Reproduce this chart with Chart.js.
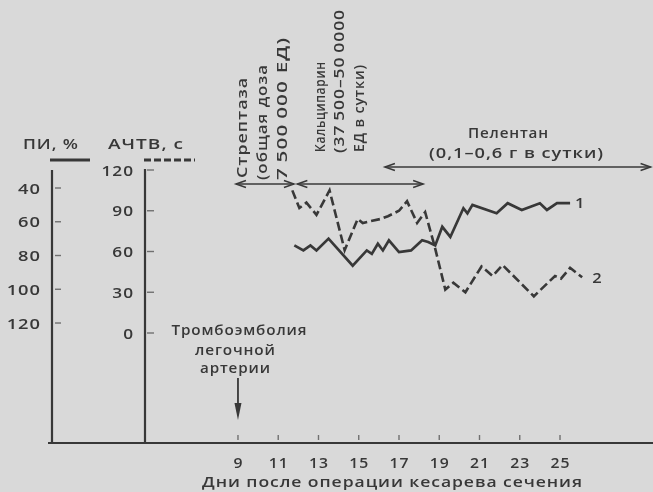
<!DOCTYPE html>
<html lang="ru">
<head>
<meta charset="utf-8">
<title>ПИ и АЧТВ после операции кесарева сечения</title>
<script src="https://cdn.jsdelivr.net/npm/chart.js@4.4.1/dist/chart.umd.min.js"></script>
<style>
  html, body { margin: 0; padding: 0; background: #d9d9d9; }
  #wrap { width: 653px; height: 492px; }
  canvas { display: block; }
</style>
</head>
<body>
<div id="wrap"><canvas id="chart" width="653" height="492"></canvas></div>
<script>
// Day after surgery (x) and prothrombin index, % (curve 1, solid)
const piDays   = [11.8, 12.25, 12.6, 12.9, 13.5, 14.7, 15.4, 15.65, 15.95, 16.2, 16.5, 17.0, 17.6, 18.15, 18.45, 18.8, 19.15, 19.55, 20.2, 20.4, 20.65, 21.85, 22.4, 23.1, 24.0, 24.35, 24.85, 25.5];
const piValues = [74, 77, 74, 77, 70, 86, 77, 79, 73, 77, 71, 78, 77, 71, 72, 74, 63, 69, 52, 55, 50, 55, 49, 53, 49, 53, 49, 49];

// Day after surgery (x) and APTT, s (curve 2, dashed)
const actvDays   = [11.7, 12.05, 12.4, 12.9, 13.55, 14.3, 14.95, 15.2, 16.1, 16.45, 17.0, 17.4, 17.9, 18.3, 18.75, 19.3, 19.7, 20.3, 21.1, 21.65, 22.15, 23.7, 24.75, 25.05, 25.5, 26.1];
const actvValues = [105, 92, 96, 87, 105, 61, 84, 81, 84, 86, 90, 97, 81, 89, 65, 32, 37, 30, 49, 42, 50, 27, 42, 40, 48, 41];

// Axis ticks
const xTickDays  = [9, 11, 13, 15, 17, 19, 21, 23, 25];
const piTicks    = [40, 60, 80, 100, 120];
const actvTicks  = [120, 90, 60, 30, 0];

// Treatment periods (days)
const streptaseSpan  = [8.9, 11.78];
const calciparinSpan = [11.95, 18.2];
const pelentanSpan   = [16.3, 29.5];
const embolismDay    = 9;

const INK = '#383838';
const SOFT = '#707070';
const FONT = '600 15px "Open Sans", "DejaVu Sans", sans-serif';
const SMALL = '600 14px "Open Sans", "DejaVu Sans", sans-serif';

// Wide lettering: glyphs stretched horizontally plus a little tracking.
// align: 'left' | 'center' | 'right'; width (optional) fits the run exactly.
function wideText(ctx, text, x, y, align, width, sx0) {
  const ls = 0.8;
  ctx.letterSpacing = '0px';
  const n = [...text].length;
  const natural = ctx.measureText(text).width + (n - 1) * ls;
  const sx = width ? width / natural : (sx0 || 1.15);
  const w = natural * sx;
  let x0 = x;
  if (align === 'center') x0 = x - w / 2;
  else if (align === 'right') x0 = x - w;
  ctx.save();
  ctx.translate(x0, y);
  ctx.scale(sx, 1);
  ctx.letterSpacing = ls + 'px';
  ctx.textAlign = 'left';
  ctx.fillText(text, 0, 0);
  ctx.restore();
}
function seg(ctx, x1, y1, x2, y2) {
  ctx.beginPath(); ctx.moveTo(x1, y1); ctx.lineTo(x2, y2); ctx.stroke();
}
// Open chevron arrow head; dir = -1 points left, +1 points right
function chevron(ctx, x, y, dir) {
  ctx.beginPath();
  ctx.moveTo(x - dir * 10, y - 3.5);
  ctx.lineTo(x, y);
  ctx.lineTo(x - dir * 10, y + 3.5);
  ctx.stroke();
}
function doubleArrow(ctx, x1, x2, y) {
  seg(ctx, x1, y, x2, y);
  chevron(ctx, x1, y, -1);
  chevron(ctx, x2, y, 1);
}

const decor = {
  id: 'decor',
  beforeDraw(chart) {
    const ctx = chart.ctx;
    ctx.save();
    ctx.fillStyle = '#d9d9d9';
    ctx.fillRect(0, 0, chart.width, chart.height);
    ctx.restore();
  },
  afterDraw(chart) {
    const ctx = chart.ctx;
    const { left, right, top, bottom } = chart.chartArea;
    const xs = chart.scales.x, pi = chart.scales.pi, actv = chart.scales.actv;
    const piAxisX = left;
    const actvAxisX = left + 93;

    ctx.save();
    ctx.font = FONT;
    ctx.fillStyle = INK;
    ctx.strokeStyle = INK;
    ctx.lineCap = 'butt';

    // Axis lines
    ctx.lineWidth = 2.2;
    seg(ctx, left - 4, bottom, right, bottom);
    seg(ctx, piAxisX, top, piAxisX, bottom);
    seg(ctx, actvAxisX, actv.getPixelForValue(120) - 1, actvAxisX, bottom);

    // Tick marks (inside the axes)
    ctx.strokeStyle = SOFT;
    ctx.lineWidth = 1.4;
    piTicks.forEach(v => {
      const y = pi.getPixelForValue(v);
      seg(ctx, piAxisX + 3, y, piAxisX + 9, y);
    });
    actvTicks.forEach(v => {
      const y = actv.getPixelForValue(v);
      seg(ctx, actvAxisX + 2, y, actvAxisX + 9, y);
    });
    xTickDays.forEach(d => {
      const x = xs.getPixelForValue(d);
      seg(ctx, x, bottom - 8, x, bottom - 3);
    });

    // Tick labels
    ctx.fillStyle = INK;
    piTicks.forEach(v => {
      wideText(ctx, String(v), piAxisX - 12, pi.getPixelForValue(v) + 5.5, 'right', null, 1.22);
    });
    actvTicks.forEach(v => {
      wideText(ctx, String(v), actvAxisX - 12, actv.getPixelForValue(v) + 5.5, 'right', null, 1.15);
    });
    xTickDays.forEach(d => {
      wideText(ctx, String(d), xs.getPixelForValue(d), bottom + 25, 'center', null, 1.05);
    });

    // Axis titles with line-style keys
    wideText(ctx, 'ПИ, %', piAxisX - 1.5, top - 21, 'center', 55);
    wideText(ctx, 'АЧТВ, с', actvAxisX + 0.5, top - 21, 'center', 75);
    ctx.strokeStyle = INK;
    ctx.lineWidth = 3;
    seg(ctx, piAxisX - 2, top - 10, piAxisX + 38, top - 10);
    ctx.setLineDash([7, 3]);
    seg(ctx, actvAxisX - 1, top - 10, actvAxisX + 50, top - 10);
    ctx.setLineDash([]);

    wideText(ctx, 'Дни после операции кесарева сечения', 392, bottom + 44, 'center', 380);

    // Treatment period arrows
    ctx.lineWidth = 1.5;
    const yA = top + 14;
    doubleArrow(ctx, xs.getPixelForValue(streptaseSpan[0]), xs.getPixelForValue(streptaseSpan[1]), yA);
    doubleArrow(ctx, xs.getPixelForValue(calciparinSpan[0]), xs.getPixelForValue(calciparinSpan[1]), yA);
    doubleArrow(ctx, xs.getPixelForValue(pelentanSpan[0]), xs.getPixelForValue(pelentanSpan[1]), top - 3);

    // Vertical captions for the treatment periods
    ctx.font = SMALL;
    const vCaptions = [
      ['Стрептаза', 247, 178, 100],
      ['(общая доза', 267, 180, 115],
      ['7\u2009500\u2009000 ЕД)', 286.5, 180, 142],
      ['Кальципарин', 324.5, 152, 90],
      ['(37\u2009500–50\u20090000', 344, 153, 143],
      ['ЕД в сутки)', 363.5, 152, 87]
    ];
    vCaptions.forEach(([t, x, y, len]) => {
      ctx.save();
      ctx.translate(x, y);
      ctx.rotate(-Math.PI / 2);
      ctx.textBaseline = 'alphabetic';
      wideText(ctx, t, 0, 0, 'left', len);
      ctx.restore();
    });
    ctx.font = FONT;

    wideText(ctx, 'Пелентан', 508, top - 32, 'center', 80);
    wideText(ctx, '(0,1–0,6 г в сутки)', 516, top - 12, 'center', 174);

    // Pulmonary embolism marker
    const ex = xs.getPixelForValue(embolismDay);
    ctx.font = SMALL;
    wideText(ctx, 'Тромбоэмболия', ex + 1, 335, 'center', 135);
    wideText(ctx, 'легочной', ex - 3, 355, 'center', 80);
    wideText(ctx, 'артерии', ex - 3, 373, 'center', 70);
    ctx.font = FONT;
    ctx.lineWidth = 1.8;
    seg(ctx, ex, 378, ex, 408);
    ctx.beginPath();
    ctx.moveTo(ex - 3.5, 403);
    ctx.lineTo(ex, 420);
    ctx.lineTo(ex + 3.5, 403);
    ctx.closePath();
    ctx.fill();

    // Curve numbers at line ends
    const end1 = chart.getDatasetMeta(0).data.at(-1);
    const end2 = chart.getDatasetMeta(1).data.at(-1);
    wideText(ctx, '1', end1.x + 5, end1.y + 5, 'left', null, 1.1);
    wideText(ctx, '2', end2.x + 10, end2.y + 5.5, 'left', null, 1.1);

    ctx.restore();
  }
};

new Chart(document.getElementById('chart'), {
  type: 'line',
  data: {
    datasets: [
      {
        label: 'ПИ, %',
        data: piDays.map((d, i) => ({ x: d, y: piValues[i] })),
        yAxisID: 'pi',
        borderColor: INK,
        borderWidth: 2.7,
        pointRadius: 0,
        tension: 0,
        borderJoinStyle: 'miter'
      },
      {
        label: 'АЧТВ, с',
        data: actvDays.map((d, i) => ({ x: d, y: actvValues[i] })),
        yAxisID: 'actv',
        borderColor: INK,
        borderWidth: 2.6,
        borderDash: [9, 4],
        pointRadius: 0,
        tension: 0,
        borderJoinStyle: 'miter'
      }
    ]
  },
  options: {
    responsive: false,
    animation: false,
    devicePixelRatio: 1,
    layout: { padding: { left: 52, right: 0, top: 170, bottom: 49 } },
    scales: {
      x:    { type: 'linear', min: -0.24, max: 29.62, display: false },
      pi:   { type: 'linear', reverse: true, min: 29.33, max: 191.1, display: false },
      actv: { type: 'linear', min: -80.98, max: 120, display: false }
    },
    plugins: {
      legend: { display: false },
      tooltip: { enabled: false }
    }
  },
  plugins: [decor]
});
</script>
</body>
</html>
